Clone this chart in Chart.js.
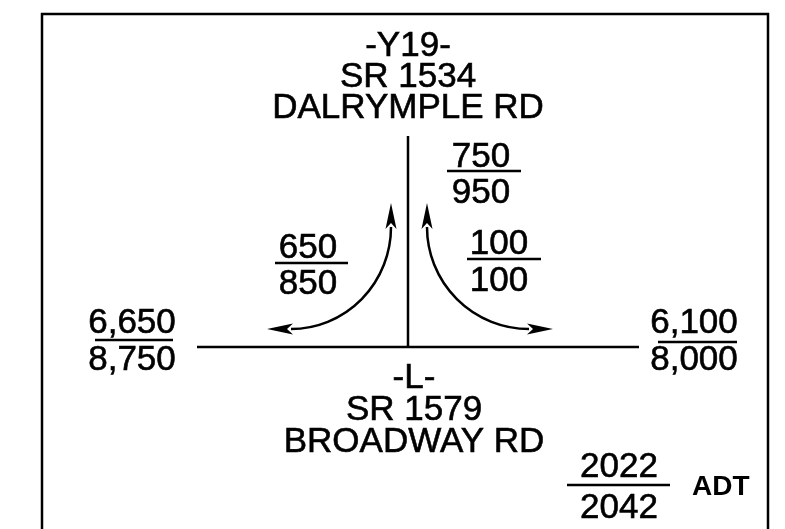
<!DOCTYPE html>
<html>
<head>
<meta charset="utf-8">
<script src="https://cdn.jsdelivr.net/npm/chart.js@4.4.0/dist/chart.umd.min.js"></script>
<style>
  html, body { margin: 0; padding: 0; background: #fff; }
  #wrap { width: 785px; height: 529px; position: relative; }
</style>
</head>
<body>
<div id="wrap"><canvas id="diagram"></canvas></div>
<script>
// ADT volumes, [2022, 2042]
const years = ['2022', '2042'];
const westLeg = [6650, 8750];
const eastLeg = [6100, 8000];
const northLeg = [750, 950];
const northToWest = [650, 850];
const northToEast = [100, 100];
const sideRoad = ['-Y19-', 'SR 1534', 'DALRYMPLE RD'];
const mainRoad = ['-L-', 'SR 1579', 'BROADWAY RD'];

// layout, in diagram units (scales run 0..785 and 0..529)
const frame = [{x: 42, y: 560}, {x: 42, y: 14}, {x: 768, y: 14}, {x: 768, y: 560}];
const mainline = [{x: 197, y: 347}, {x: 639, y: 347}];
const sideline = [{x: 408, y: 136}, {x: 408, y: 347}];

const FONT = '"Liberation Sans", Arial, sans-serif';
const INK = '#000';

const fractions = [
    {vals: northLeg, x: 481, top: 167, bot: 203, line: 171, x0: 447, x1: 521},
    {vals: northToWest, x: 308, top: 258, bot: 294, line: 263, x0: 275, x1: 348},
    {vals: northToEast, x: 499, top: 254, bot: 291, line: 259, x0: 467, x1: 541},
    {vals: westLeg, x: 132, top: 333, bot: 370, line: 340, x0: 95, x1: 173},
    {vals: eastLeg, x: 694, top: 333, bot: 370, line: 342, x0: 658, x1: 737},
    {vals: years, x: 619, top: 477, bot: 518, line: 485, x0: 567, x1: 670}
];

const nameBlocks = [
    {lines: sideRoad, x: 408, y: [56, 87, 118]},
    {lines: mainRoad, x: 414, y: [388, 420, 452]}
];

// turn arrows: quarter ellipses with arrowheads on both ends
const turns = [
    {cx: 291, cy: 227, rx: 100, ry: 102, a0: 0, a1: Math.PI / 2,
     heads: [{x: 391, y: 203, dx: 0, dy: -1}, {x: 267, y: 329, dx: -1, dy: 0}]},
    {cx: 529, cy: 227, rx: 102, ry: 102, a0: Math.PI / 2, a1: Math.PI,
     heads: [{x: 427, y: 203, dx: 0, dy: -1}, {x: 553, y: 329, dx: 1, dy: 0}]}
];

function fmt(v) {
    return typeof v === 'number' ? v.toLocaleString('en-US') : v;
}

function arrowHead(ctx, tx, ty, dx, dy) {
    const len = 26, half = 5.5, notch = 20;
    const bx = tx - dx * len, by = ty - dy * len;
    ctx.beginPath();
    ctx.moveTo(tx, ty);
    ctx.lineTo(bx - dy * half, by + dx * half);
    ctx.lineTo(tx - dx * notch, ty - dy * notch);
    ctx.lineTo(bx + dy * half, by - dx * half);
    ctx.closePath();
    ctx.fill();
}

// text with a hairline outline so it reads as heavy as the plotted original
function ink(ctx, text, x, y) {
    ctx.fillText(text, x, y);
    ctx.lineWidth = 0.6;
    ctx.strokeText(text, x, y);
}

const diagramPlugin = {
    id: 'diagram',
    afterDatasetsDraw(chart) {
        const ctx = chart.ctx;
        const sx = chart.scales.x, sy = chart.scales.y;
        const px = v => sx.getPixelForValue(v);
        const py = v => sy.getPixelForValue(v);
        ctx.save();
        ctx.fillStyle = INK;
        ctx.strokeStyle = INK;
        ctx.textAlign = 'center';
        ctx.textBaseline = 'alphabetic';

        ctx.font = '35px ' + FONT;
        nameBlocks.forEach(b => {
            b.lines.forEach((t, i) => ink(ctx, t, px(b.x), py(b.y[i])));
        });

        fractions.forEach(f => {
            ctx.font = '35px ' + FONT;
            ink(ctx, fmt(f.vals[0]), px(f.x), py(f.top));
            ink(ctx, fmt(f.vals[1]), px(f.x), py(f.bot));
            ctx.lineWidth = 2.5;
            ctx.beginPath();
            ctx.moveTo(px(f.x0), py(f.line));
            ctx.lineTo(px(f.x1), py(f.line));
            ctx.stroke();
        });

        ctx.font = 'bold 28px ' + FONT;
        ctx.textAlign = 'left';
        ctx.fillText('ADT', px(692), py(495));

        turns.forEach(t => {
            ctx.lineWidth = 2.5;
            ctx.beginPath();
            ctx.ellipse(px(t.cx), py(t.cy), t.rx, t.ry, 0, t.a0, t.a1);
            ctx.stroke();
            t.heads.forEach(h => arrowHead(ctx, px(h.x), py(h.y), h.dx, h.dy));
        });
        ctx.restore();
    }
};

const lineSet = (data, width) => ({
    data: data,
    showLine: true,
    borderColor: INK,
    borderWidth: width,
    pointRadius: 0,
    fill: false,
    tension: 0
});

new Chart(document.getElementById('diagram'), {
    type: 'scatter',
    data: {
        datasets: [
            lineSet(frame, 2.5),
            lineSet(mainline, 2.5),
            lineSet(sideline, 2.5)
        ]
    },
    options: {
        responsive: true,
        maintainAspectRatio: false,
        animation: false,
        layout: { padding: 0 },
        scales: {
            x: { type: 'linear', min: 0, max: 785, display: false },
            y: { type: 'linear', min: 0, max: 529, reverse: true, display: false }
        },
        plugins: {
            legend: { display: false },
            tooltip: { enabled: false }
        }
    },
    plugins: [diagramPlugin]
});
</script>
</body>
</html>
